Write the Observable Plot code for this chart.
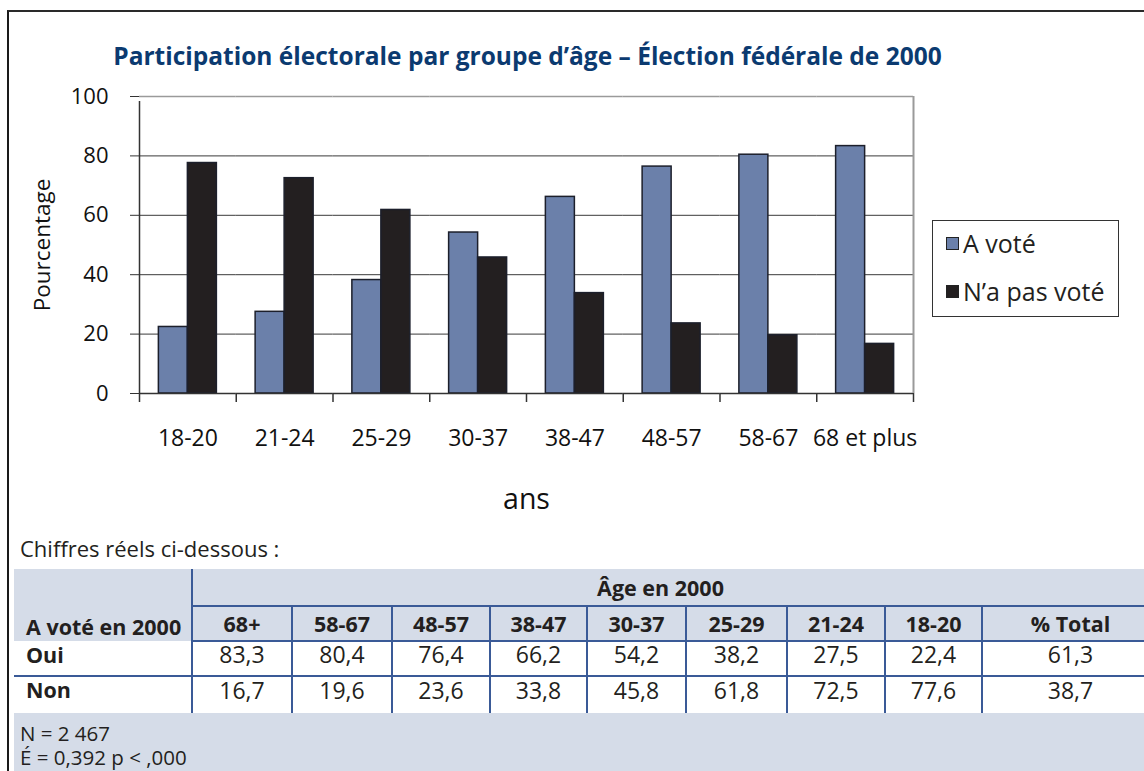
<!DOCTYPE html>
<html lang="fr">
<head>
<meta charset="utf-8">
<script src="https://cdn.jsdelivr.net/npm/d3@7"></script>
<script src="https://cdn.jsdelivr.net/npm/@observablehq/plot@0.6"></script>
<style>
  html, body { margin: 0; padding: 0; background: #fff; }
  body { width: 1144px; height: 771px; position: relative; overflow: hidden; font-family: "Open Sans", "DejaVu Sans", sans-serif; color: #231f20; }
  #frame { position: absolute; left: 7px; top: 10px; width: 1200px; height: 800px; border-left: 2px solid #1a1a1a; border-top: 2px solid #2a2a2a; }
  #title { position: absolute; left: 0; width: 1055px; top: 39px; text-align: center; font-weight: 700; font-size: 24.5px; line-height: 34px; color: #0b3a70; white-space: nowrap; }
  #chart { position: absolute; left: 0; top: 0; }
  #legend { position: absolute; left: 932px; top: 220px; width: 185px; height: 95px; border: 1px solid #333; box-sizing: content-box; font-size: 25px; line-height: 34px; }
  #legend .item { position: absolute; left: 13px; display: flex; align-items: center; white-space: nowrap; }
  #legend .sw { width: 11px; height: 11px; border: 1.5px solid #222; margin-right: 4px; }
  #note { position: absolute; left: 20px; top: 532px; font-size: 22px; line-height: 32px; }
  #tbl { position: absolute; left: 14px; top: 569px; border-collapse: collapse; table-layout: fixed; width: 1144px; font-size: 23px; background: #d5dce8; }
  #tbl th, #tbl td { padding: 0; text-align: center; white-space: nowrap; }
  #tbl th { font-weight: 700; font-size: 21.5px; }
  #tbl .first { text-align: left; padding-left: 12px; border-right: 2px solid #3a5a97; vertical-align: bottom; }
  #tbl tr.h1 th { height: 36px; }
  #tbl tr.h1 th.age { border-bottom: 2px solid #3a5a97; }
  #tbl tr.h2 th { height: 33px; border-bottom: 2px solid #3a5a97; }
  #tbl tr.h2 th + th { border-left: 2px solid #3a5a97; }
  #tbl tr.d td { background: #fff; height: 25px; line-height: 25px; padding-bottom: 8px; }
  #tbl tr.d td.first { vertical-align: middle; }
  #tbl tr.d td + td { border-left: 2px solid #3a5a97; }
  #tbl tr.d1 td { border-bottom: 2px solid #3a5a97; }
  #tbl tr.d2 td { height: 26px; line-height: 26px; padding-bottom: 10px; }
  #tbl tr.d td.first { font-weight: 700; font-size: 21.5px; }
  #tbl tr.f td { text-align: left; padding-left: 6px; height: 58px; font-size: 20.5px; line-height: 24px; vertical-align: top; padding-top: 8px; }
</style>
</head>
<body>
<div id="frame"></div>
<div id="title">Participation électorale par groupe d’âge – Élection fédérale de 2000</div>
<div id="chart"></div>
<div id="legend"></div>
<div id="note">Chiffres réels ci-dessous :</div>
<table id="tbl"></table>
<script>
// ---- Data ----
const categories = ["18-20", "21-24", "25-29", "30-37", "38-47", "48-57", "58-67", "68 et plus"];
const series = ["A voté", "N’a pas voté"];
const aVote = [22.4, 27.5, 38.2, 54.2, 66.2, 76.4, 80.4, 83.3];
const pasVote = [77.6, 72.5, 61.8, 45.8, 33.8, 23.6, 19.6, 16.7];
const seriesColors = ["#6b80aa", "#231f20"];
const yTicks = [0, 20, 40, 60, 80, 100];

const tableHeaders = ["68+", "58-67", "48-57", "38-47", "30-37", "25-29", "21-24", "18-20", "% Total"];
const tableOui = ["83,3", "80,4", "76,4", "66,2", "54,2", "38,2", "27,5", "22,4", "61,3"];
const tableNon = ["16,7", "19,6", "23,6", "33,8", "45,8", "61,8", "72,5", "77,6", "38,7"];
const footLines = ["N = 2 467", "É = 0,392 p < ,000"];

// ---- Chart ----
const data = categories.flatMap((c, i) => [
  {age: c, series: series[0], value: aVote[i]},
  {age: c, series: series[1], value: pasVote[i]}
]);

const W = 930, H = 530, mL = 139, mR = 17, mT = 96, mB = 137;
const P = 0.668;
const band = (W - mL - mR) / categories.length;
const step = band / (2 + 2 * P);
const off = step * (P + 0.5);

const chart = Plot.plot({
  width: W, height: H,
  marginLeft: mL, marginRight: mR, marginTop: mT, marginBottom: mB,
  style: {fontFamily: "'Open Sans', 'DejaVu Sans', sans-serif", fontSize: "22px", color: "#111", background: "transparent", overflow: "visible"},
  fx: {domain: categories, padding: 0, round: false, label: "ans"},
  x: {domain: series, paddingInner: 0, paddingOuter: P, round: false, axis: null},
  y: {domain: [0, 100]},
  color: {domain: series, range: seriesColors},
  marks: [
    Plot.gridY(yTicks.filter(t => t > 0 && t < 100), {stroke: "#3a3a3a", strokeOpacity: 1, strokeWidth: 1}),
    Plot.ruleY([100], {stroke: "#9a9a9a", strokeWidth: 1.5}),
    Plot.barY(data, {fx: "age", x: "series", y: "value", fill: "series", stroke: "#1c1f2b", strokeWidth: 1.5}),
    Plot.ruleY([0], {stroke: "#333", strokeWidth: 1.5}),
    // boundary ticks below the category axis
    Plot.ruleX(categories, {fx: d => d, x: () => series[0], y1: 0, y2: 0, dx: -off, insetBottom: -9, stroke: "#333", strokeWidth: 1.5}),
    Plot.ruleX(categories.slice(-1), {fx: d => d, x: () => series[1], y1: 0, y2: 0, dx: off, insetBottom: -9, stroke: "#333", strokeWidth: 1.5}),
    // left axis line and right border
    Plot.ruleX(categories.slice(0, 1), {fx: d => d, x: () => series[0], y1: 0, y2: 100, dx: -off, insetBottom: -5, stroke: "#333", strokeWidth: 1.5}),
    Plot.ruleX(categories.slice(-1), {fx: d => d, x: () => series[1], y1: 0, y2: 100, dx: off, stroke: "#9a9a9a", strokeWidth: 2}),
    Plot.axisY({ticks: yTicks, tickSize: 9, tickPadding: 22, fontSize: 22, tickFormat: d => String(d), label: "Pourcentage", labelArrow: false, labelAnchor: "center", labelOffset: 105, stroke: "#333"}),
    Plot.axisFx({anchor: "bottom", tickSize: 0, tickPadding: 36, fontSize: 23, label: "ans", labelArrow: false, labelAnchor: "center", labelOffset: 115})
  ]
});
document.getElementById("chart").appendChild(chart);
// style axis labels
d3.select(chart).selectAll('g[aria-label="fx-axis label"] text').style("font-size", "28.5px");
d3.select(chart).selectAll('g[aria-label="y-axis label"] text').style("font-size", "22.5px").text("Pourcentage");

// ---- Legend ----
const legend = d3.select("#legend");
series.forEach((s, i) => {
  const it = legend.append("div").attr("class", "item").style("top", (i === 0 ? 5 : 53) + "px");
  it.append("div").attr("class", "sw").style("background", seriesColors[i]);
  it.append("span").text(s);
});

// ---- Table ----
const tbl = d3.select("#tbl");
const cg = tbl.append("colgroup");
[178, 100, 100, 98, 97, 99, 101, 98, 97, 176].forEach(w => cg.append("col").style("width", w + "px"));
const r1 = tbl.append("tr").attr("class", "h1");
r1.append("th").attr("class", "first").attr("rowspan", 2).text("A voté en 2000");
r1.append("th").attr("class", "age").attr("colspan", tableHeaders.length).html("<span style='position:relative;left:-15px'>Âge en 2000</span>");
const r2 = tbl.append("tr").attr("class", "h2");
tableHeaders.forEach(h => r2.append("th").text(h));
const d1 = tbl.append("tr").attr("class", "d d1");
d1.append("td").attr("class", "first").text("Oui");
tableOui.forEach(v => d1.append("td").text(v));
const d2 = tbl.append("tr").attr("class", "d d2");
d2.append("td").attr("class", "first").text("Non");
tableNon.forEach(v => d2.append("td").text(v));
const f = tbl.append("tr").attr("class", "f");
f.append("td").attr("colspan", tableHeaders.length + 1).html(footLines.join("<br>"));
</script>
</body>
</html>
